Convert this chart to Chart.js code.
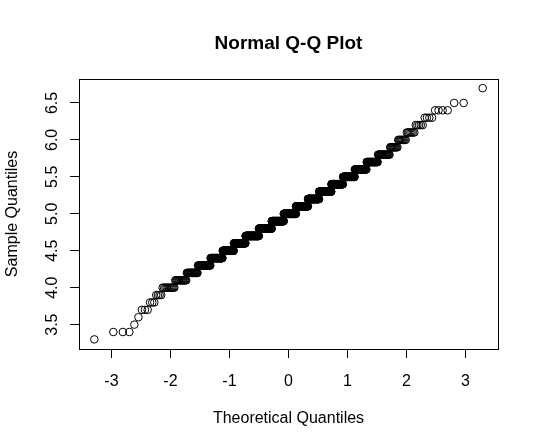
<!DOCTYPE html>
<html>
<head>
<meta charset="utf-8">
<script src="https://cdn.jsdelivr.net/npm/chart.js@4.4.1/dist/chart.umd.min.js"></script>
<style>
  html, body { margin: 0; padding: 0; background: #fff; }
</style>
</head>
<body>
<canvas id="qq" width="538" height="448"></canvas>
<script>
// observed sample values (rounded to 0.1) and how many times each occurs
const sampleValues = [3.3, 3.4, 3.5, 3.6, 3.7, 3.8, 3.9, 4.0, 4.1, 4.2, 4.3, 4.4, 4.5, 4.6, 4.7, 4.8, 4.9,
  5.0, 5.1, 5.2, 5.3, 5.4, 5.5, 5.6, 5.7, 5.8, 5.9, 6.0, 6.1, 6.2, 6.3, 6.4, 6.5, 6.6, 6.7];
const sampleCounts = [1, 3, 1, 1, 3, 3, 4, 11, 15, 20, 31, 39, 45, 56, 75, 80, 80,
  82, 79, 69, 68, 56, 47, 38, 28, 22, 11, 9, 7, 5, 4, 4, 2, 0, 1];
const xTicks = [-3, -2, -1, 0, 1, 2, 3];
const yTicks = [3.5, 4.0, 4.5, 5.0, 5.5, 6.0, 6.5];

const FONT = "'Liberation Sans', Arial, Helvetica, sans-serif";

// inverse normal cdf (Acklam), used for the theoretical quantiles
function qnorm(p) {
  const a = [-3.969683028665376e+01, 2.209460984245205e+02, -2.759285104469687e+02, 1.383577518672690e+02, -3.066479806614716e+01, 2.506628277459239e+00];
  const b = [-5.447609879822406e+01, 1.615858368580409e+02, -1.556989798598866e+02, 6.680131188771972e+01, -1.328068155288572e+01];
  const c = [-7.784894002430293e-03, -3.223964580411365e-01, -2.400758277161838e+00, -2.549732539343734e+00, 4.374664141464968e+00, 2.938163982698783e+00];
  const d = [7.784695709041462e-03, 3.224671290700398e-01, 2.445134137142996e+00, 3.754408661907416e+00];
  const pl = 0.02425;
  let q, r;
  if (p < pl) {
    q = Math.sqrt(-2 * Math.log(p));
    return (((((c[0]*q+c[1])*q+c[2])*q+c[3])*q+c[4])*q+c[5]) / ((((d[0]*q+d[1])*q+d[2])*q+d[3])*q+1);
  }
  if (p > 1 - pl) {
    q = Math.sqrt(-2 * Math.log(1 - p));
    return -(((((c[0]*q+c[1])*q+c[2])*q+c[3])*q+c[4])*q+c[5]) / ((((d[0]*q+d[1])*q+d[2])*q+d[3])*q+1);
  }
  q = p - 0.5; r = q * q;
  return (((((a[0]*r+a[1])*r+a[2])*r+a[3])*r+a[4])*r+a[5])*q / (((((b[0]*r+b[1])*r+b[2])*r+b[3])*r+b[4])*r+1);
}

const sample = [];
sampleValues.forEach((v, k) => { for (let j = 0; j < sampleCounts[k]; j++) sample.push(v); });
const n = sample.length;
const points = sample.map((y, i) => ({ x: qnorm((i + 0.5) / n), y: y }));

const rPlot = {
  id: 'rPlot',
  afterDraw(chart) {
    const { ctx, chartArea: ca, scales } = chart;
    ctx.save();
    // box round the plot region
    ctx.strokeStyle = '#000';
    ctx.lineWidth = 1;
    ctx.strokeRect(Math.round(ca.left) + 0.5, Math.round(ca.top) + 0.5,
      Math.round(ca.right - ca.left), Math.round(ca.bottom - ca.top));
    // main title
    ctx.fillStyle = '#000';
    ctx.font = 'bold 19px ' + FONT;
    ctx.textAlign = 'center';
    ctx.textBaseline = 'alphabetic';
    ctx.fillText('Normal Q-Q Plot', (ca.left + ca.right) / 2, 49);
    // y tick labels, parallel to the axis
    ctx.font = '16px ' + FONT;
    yTicks.forEach(v => {
      const y = scales.y.getPixelForValue(v);
      ctx.save();
      ctx.translate(ca.left - 22, y);
      ctx.rotate(-Math.PI / 2);
      ctx.fillText(v.toFixed(1), 0, 0);
      ctx.restore();
    });
    ctx.restore();
  }
};

new Chart(document.getElementById('qq').getContext('2d'), {
  type: 'scatter',
  data: {
    datasets: [{
      data: points,
      pointStyle: 'circle',
      pointRadius: 3.8,
      pointBorderWidth: 1,
      pointBorderColor: '#000',
      pointBackgroundColor: 'rgba(0,0,0,0)',
      pointHoverRadius: 3.8
    }]
  },
  options: {
    responsive: false,
    animation: false,
    layout: { padding: { left: 0, right: 40, top: 79, bottom: 0 } },
    plugins: { legend: { display: false }, tooltip: { enabled: false } },
    scales: {
      x: {
        type: 'linear',
        min: -3.55,
        max: 3.55,
        afterBuildTicks: s => { s.ticks = xTicks.map(v => ({ value: v })); },
        afterFit: s => { s.height = 99; },
        grid: { drawOnChartArea: false, drawTicks: true, tickLength: 9, color: '#000' },
        border: { display: false },
        ticks: { color: '#000', padding: 14, font: { family: FONT, size: 16 }, callback: v => String(v) },
        title: { display: true, text: 'Theoretical Quantiles', color: '#000',
          font: { family: FONT, size: 16 }, padding: { top: 0, bottom: 20 } }
      },
      y: {
        type: 'linear',
        min: 3.17,
        max: 6.824,
        afterBuildTicks: s => { s.ticks = yTicks.map(v => ({ value: v })); },
        afterFit: s => { s.width = 79; },
        grid: { drawOnChartArea: false, drawTicks: true, tickLength: 9, color: '#000' },
        border: { display: false },
        ticks: { color: 'rgba(0,0,0,0)', font: { family: FONT, size: 16 } },
        title: { display: true, text: 'Sample Quantiles', color: '#000',
          font: { family: FONT, size: 16 }, padding: { top: 3, bottom: 0 } }
      }
    }
  },
  plugins: [rPlot]
});
</script>
</body>
</html>
